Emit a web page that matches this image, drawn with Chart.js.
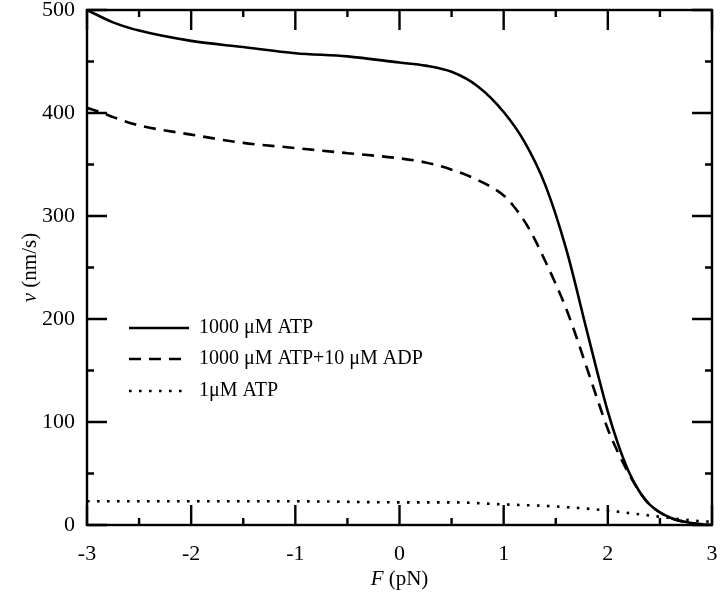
<!DOCTYPE html>
<html><head><meta charset="utf-8">
<script src="https://cdn.jsdelivr.net/npm/chart.js@4/dist/chart.umd.min.js"></script>
<style>html,body{margin:0;padding:0;background:#fff}#w{width:720px;height:597px}</style>
</head><body><div id="w"><canvas id="c"></canvas></div>
<script>
// Data
const seriesLabels = ["1000 \u03bcM ATP", "1000 \u03bcM ATP+10 \u03bcM ADP", "1\u03bcM ATP"];
const xSolid  = [-3, -2.75, -2.5, -2, -1.5, -1, -0.5, 0, 0.25, 0.5, 0.75, 1, 1.2, 1.4, 1.6, 1.8, 1.9, 2, 2.1, 2.2, 2.3, 2.4, 2.6, 2.8, 3];
const ySolid  = [500, 488, 480, 470, 464, 458, 455, 449, 446, 440, 426, 401, 372, 330, 268, 188, 148, 110, 78, 52, 33, 20, 7, 2, 0];
const xDashed = [-3, -2.85, -2.75, -2.5, -2, -1.5, -1, -0.5, 0, 0.25, 0.5, 0.75, 1, 1.1, 1.2, 1.3, 1.4, 1.5, 1.6, 1.7, 1.8, 1.9, 2, 2.1, 2.2, 2.3, 2.4, 2.6, 2.8, 3];
const yDashed = [405, 400, 396, 388, 379, 371, 366, 361, 356, 352, 345, 335, 320, 309, 295, 277, 256, 234, 210, 182, 152, 122, 93, 70, 50, 33, 20, 7, 2, 0];
const xDotted = [-3, -2, -1, 0, 0.5, 1, 1.5, 2, 2.25, 2.5, 2.75, 3];
const yDotted = [23, 23, 23, 22, 22, 20, 18, 14, 11, 8, 5, 3];
const xTickVals = [-3, -2, -1, 0, 1, 2, 3];
const yTickVals = [0, 100, 200, 300, 400, 500];

const pts = (xs, ys) => xs.map((x, i) => ({x, y: ys[i]}));
const FONT = "'Liberation Serif', 'Times New Roman', serif";

const frameTicks = {
  id: 'frameTicks',
  afterDatasetsDraw(chart) {
    const {ctx, chartArea: a, scales: {x, y}} = chart;
    ctx.save();
    ctx.strokeStyle = '#000';
    ctx.lineWidth = 2.4;
    ctx.lineCap = 'butt';
    ctx.strokeRect(a.left, a.top, a.right - a.left, a.bottom - a.top);
    const MJ = 20, MN = 7;
    ctx.beginPath();
    for (let i = 0; i < xTickVals.length; i++) {
      const v = xTickVals[i], px = x.getPixelForValue(v);
      ctx.moveTo(px, a.bottom); ctx.lineTo(px, a.bottom - MJ);
      ctx.moveTo(px, a.top); ctx.lineTo(px, a.top + MJ);
      if (i < xTickVals.length - 1) {
        const m = x.getPixelForValue((v + xTickVals[i + 1]) / 2);
        ctx.moveTo(m, a.bottom); ctx.lineTo(m, a.bottom - MN);
        ctx.moveTo(m, a.top); ctx.lineTo(m, a.top + MN);
      }
    }
    for (let i = 0; i < yTickVals.length; i++) {
      const v = yTickVals[i], py = y.getPixelForValue(v);
      ctx.moveTo(a.left, py); ctx.lineTo(a.left + MJ, py);
      ctx.moveTo(a.right, py); ctx.lineTo(a.right - MJ, py);
      if (i < yTickVals.length - 1) {
        const m = y.getPixelForValue((v + yTickVals[i + 1]) / 2);
        ctx.moveTo(a.left, m); ctx.lineTo(a.left + MN, m);
        ctx.moveTo(a.right, m); ctx.lineTo(a.right - MN, m);
      }
    }
    ctx.stroke();

    // Legend
    const rowsY = [328, 359, 391];
    chart.data.datasets.forEach((ds, i) => {
      const yy = rowsY[i];
      ctx.save();
      ctx.strokeStyle = '#000';
      ctx.lineWidth = ds.borderWidth;
      ctx.setLineDash(ds.borderDash || []);
      ctx.beginPath();
      ctx.moveTo(129, yy); ctx.lineTo(189, yy);
      ctx.stroke();
      ctx.restore();
      ctx.fillStyle = '#000';
      ctx.font = '20px ' + FONT;
      ctx.textBaseline = 'middle';
      ctx.textAlign = 'left';
      ctx.fillText(ds.label, 199, yy);
    });

    // Axis titles with italic symbols
    const drawMixed = (parts, cx, cy) => {
      let total = 0;
      parts.forEach(p => { ctx.font = p[1] + ' 21px ' + FONT; total += ctx.measureText(p[0]).width; });
      let xx = cx - total / 2;
      parts.forEach(p => {
        ctx.font = p[1] + ' 21px ' + FONT;
        ctx.fillText(p[0], xx, cy);
        xx += ctx.measureText(p[0]).width;
      });
    };
    ctx.fillStyle = '#000';
    ctx.textBaseline = 'middle';
    ctx.textAlign = 'left';
    drawMixed([['F', 'italic'], [' (pN)', 'normal']], (a.left + a.right) / 2, 579);
    ctx.save();
    ctx.translate(30, (a.top + a.bottom) / 2);
    ctx.rotate(-Math.PI / 2);
    drawMixed([['v', 'italic'], [' (nm/s)', 'normal']], 0, 0);
    ctx.restore();
    ctx.restore();
  }
};

new Chart(document.getElementById('c'), {
  type: 'line',
  data: {
    datasets: [
      {label: seriesLabels[0], data: pts(xSolid, ySolid), borderColor: '#000', borderWidth: 2.6, pointRadius: 0, cubicInterpolationMode: 'monotone', fill: false},
      {label: seriesLabels[1], data: pts(xDashed, yDashed), borderColor: '#000', borderWidth: 2.6, borderDash: [12, 8], pointRadius: 0, cubicInterpolationMode: 'monotone', fill: false},
      {label: seriesLabels[2], data: pts(xDotted, yDotted), borderColor: '#000', borderWidth: 2.6, borderDash: [2.6, 7.4], pointRadius: 0, cubicInterpolationMode: 'monotone', fill: false}
    ]
  },
  options: {
    responsive: true,
    maintainAspectRatio: false,
    animation: false,
    layout: {padding: {left: 0, right: 8, top: 10, bottom: 0}},
    plugins: {legend: {display: false}, tooltip: {enabled: false}},
    scales: {
      x: {
        type: 'linear', min: -3, max: 3,
        afterFit: s => { s.height = 72; s.paddingLeft = 0; s.paddingRight = 0; },
        afterBuildTicks: s => { s.ticks = xTickVals.map(v => ({value: v})); },
        grid: {display: false, drawTicks: false},
        border: {display: false},
        ticks: {color: '#000', font: {family: FONT, size: 22}, padding: 16, maxRotation: 0}
      },
      y: {
        type: 'linear', min: 0, max: 500,
        afterFit: s => { s.width = 87; s.paddingTop = 0; s.paddingBottom = 0; },
        afterBuildTicks: s => { s.ticks = yTickVals.map(v => ({value: v})); },
        grid: {display: false, drawTicks: false},
        border: {display: false},
        ticks: {color: '#000', font: {family: FONT, size: 22}, padding: 12}
      }
    }
  },
  plugins: [frameTicks]
});
</script></body></html>
